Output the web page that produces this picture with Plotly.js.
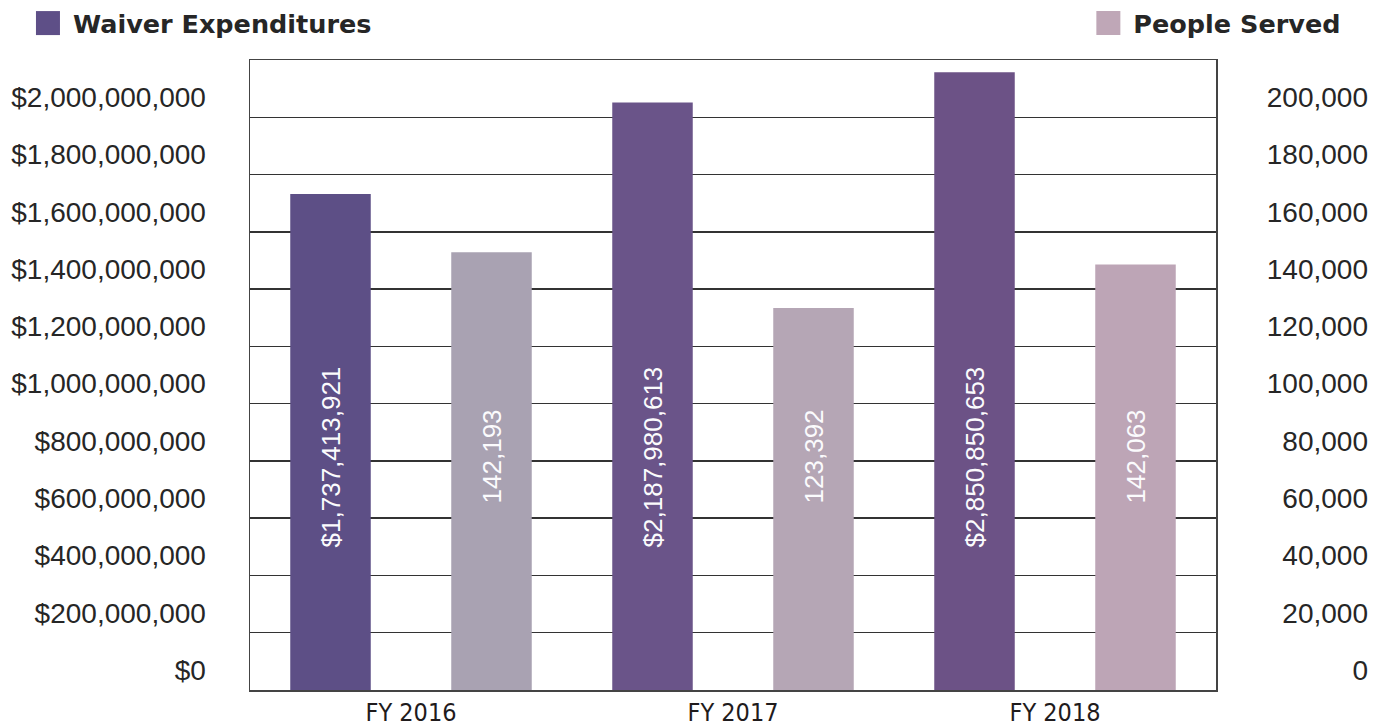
<!DOCTYPE html>
<html>
<head>
<meta charset="utf-8">
<script src="https://cdn.plot.ly/plotly-3.0.1.min.js"></script>
<style>html,body{margin:0;padding:0;background:#fff;}#chart{width:1385px;height:727px;}</style>
</head>
<body>
<div id="chart"></div>
<script>
// ---- data (bar heights; printed labels kept as text) ----
const categories = ["FY 2016", "FY 2017", "FY 2018"];
const waiverHeights = [1732000000, 2052000000, 2157000000];
const peopleHeights = [152900, 133400, 148600];
const waiverLabels = ["$1,737,413,921", "$2,187,980,613", "$2,850,850,653"];
const peopleLabels = ["142,193", "123,392", "142,063"];
const leftTicks = [0, 200000000, 400000000, 600000000, 800000000, 1000000000, 1200000000, 1400000000, 1600000000, 1800000000, 2000000000];
const rightTicks = [0, 20000, 40000, 60000, 80000, 100000, 120000, 140000, 160000, 180000, 200000];
const seriesNames = ["Waiver Expenditures", "People Served"];

const waiverColors = ["#5d4f86", "#6a5489", "#6c5286"];
const peopleColors = ["#a9a2b2", "#b5a6b5", "#bda5b6"];
const legendSwatch = ["#5e4f87", "#bfa7b7"];

const traces = [
  {
    type: "bar", name: seriesNames[0], x: categories, y: waiverHeights,
    marker: {color: waiverColors}, width: 0.25, offset: -0.375,
    yaxis: "y", legend: "legend", hoverinfo: "skip"
  },
  {
    type: "bar", name: seriesNames[1], x: categories, y: peopleHeights,
    marker: {color: peopleColors}, width: 0.25, offset: 0.125,
    yaxis: "y2", legend: "legend2", hoverinfo: "skip"
  }
];

const labelFont = {family: "Liberation Sans, Arial, sans-serif", size: 26, color: "#fbfbfd"};
const annotations = [];
categories.forEach((c, i) => {
  annotations.push({x: i - 0.25, xref: "x", y: 0.37, yref: "paper",
    text: waiverLabels[i], showarrow: false, textangle: -90, font: labelFont});
  annotations.push({x: i + 0.25, xref: "x", y: 0.37, yref: "paper",
    text: peopleLabels[i], showarrow: false, textangle: -90, font: labelFont});
});

const tickFont = {family: "Liberation Sans, Arial, sans-serif", size: 28, color: "#262626"};
const legendFont = {family: "DejaVu Sans, sans-serif", size: 25.5, color: "#262626", weight: "bold"};

const layout = {
  width: 1385, height: 727,
  margin: {l: 250, r: 14, t: 60, b: 37, autoexpand: false},
  paper_bgcolor: "#ffffff", plot_bgcolor: "#ffffff",
  barmode: "overlay",
  showlegend: true,
  legend: {xref: "container", yref: "container", x: 0.0238, xanchor: "left", y: 1.0, yanchor: "top",
    font: legendFont, bgcolor: "rgba(0,0,0,0)", borderwidth: 0},
  legend2: {xref: "container", yref: "container", x: 0.9721, xanchor: "right", y: 1.0, yanchor: "top",
    font: legendFont, bgcolor: "rgba(0,0,0,0)", borderwidth: 0},
  xaxis: {
    domain: [0, (1216 - 250) / (1385 - 250 - 14)], type: "category", range: [-0.5, 2.5],
    showline: true, mirror: true, linecolor: "#444", linewidth: 1.5,
    ticks: "", showgrid: false, zeroline: false, automargin: false,
    tickfont: {family: "Liberation Sans Narrow, DejaVu Sans Condensed, sans-serif", size: 25, color: "#1f1b1c", weight: 500},
    ticklabelstandoff: -1,
    fixedrange: true
  },
  yaxis: {
    range: [0, 2200000000], tickvals: leftTicks, tickformat: "$,.0f",
    showline: true, mirror: true, linecolor: "#444", linewidth: 1.5,
    showgrid: true, gridcolor: "#333333", gridwidth: 1.5, zeroline: false,
    ticks: "", ticklabelstandoff: 37, ticklabelshift: -20, automargin: false,
    tickfont: tickFont, fixedrange: true
  },
  yaxis2: {
    overlaying: "y", side: "right", anchor: "free", position: 1,
    range: [0, 220000], tickvals: rightTicks, tickformat: ",.0f",
    showline: false, showgrid: false, zeroline: false, ticks: "", automargin: false,
    ticklabelposition: "inside", ticklabeloverflow: "allow", ticklabelshift: -20,
    tickfont: tickFont, fixedrange: true
  },
  annotations: annotations
};

Plotly.newPlot("chart", traces, layout, {displayModeBar: false, staticPlot: true}).then(() => {
  document.querySelectorAll(".legendpoints path").forEach((p, i) => {
    const t = p.getAttribute("transform") || "";
    p.setAttribute("transform", t + " scale(2) translate(-2.5,0)");
    if (legendSwatch[i]) p.style.fill = legendSwatch[i];
  });
});
</script>
</body>
</html>
